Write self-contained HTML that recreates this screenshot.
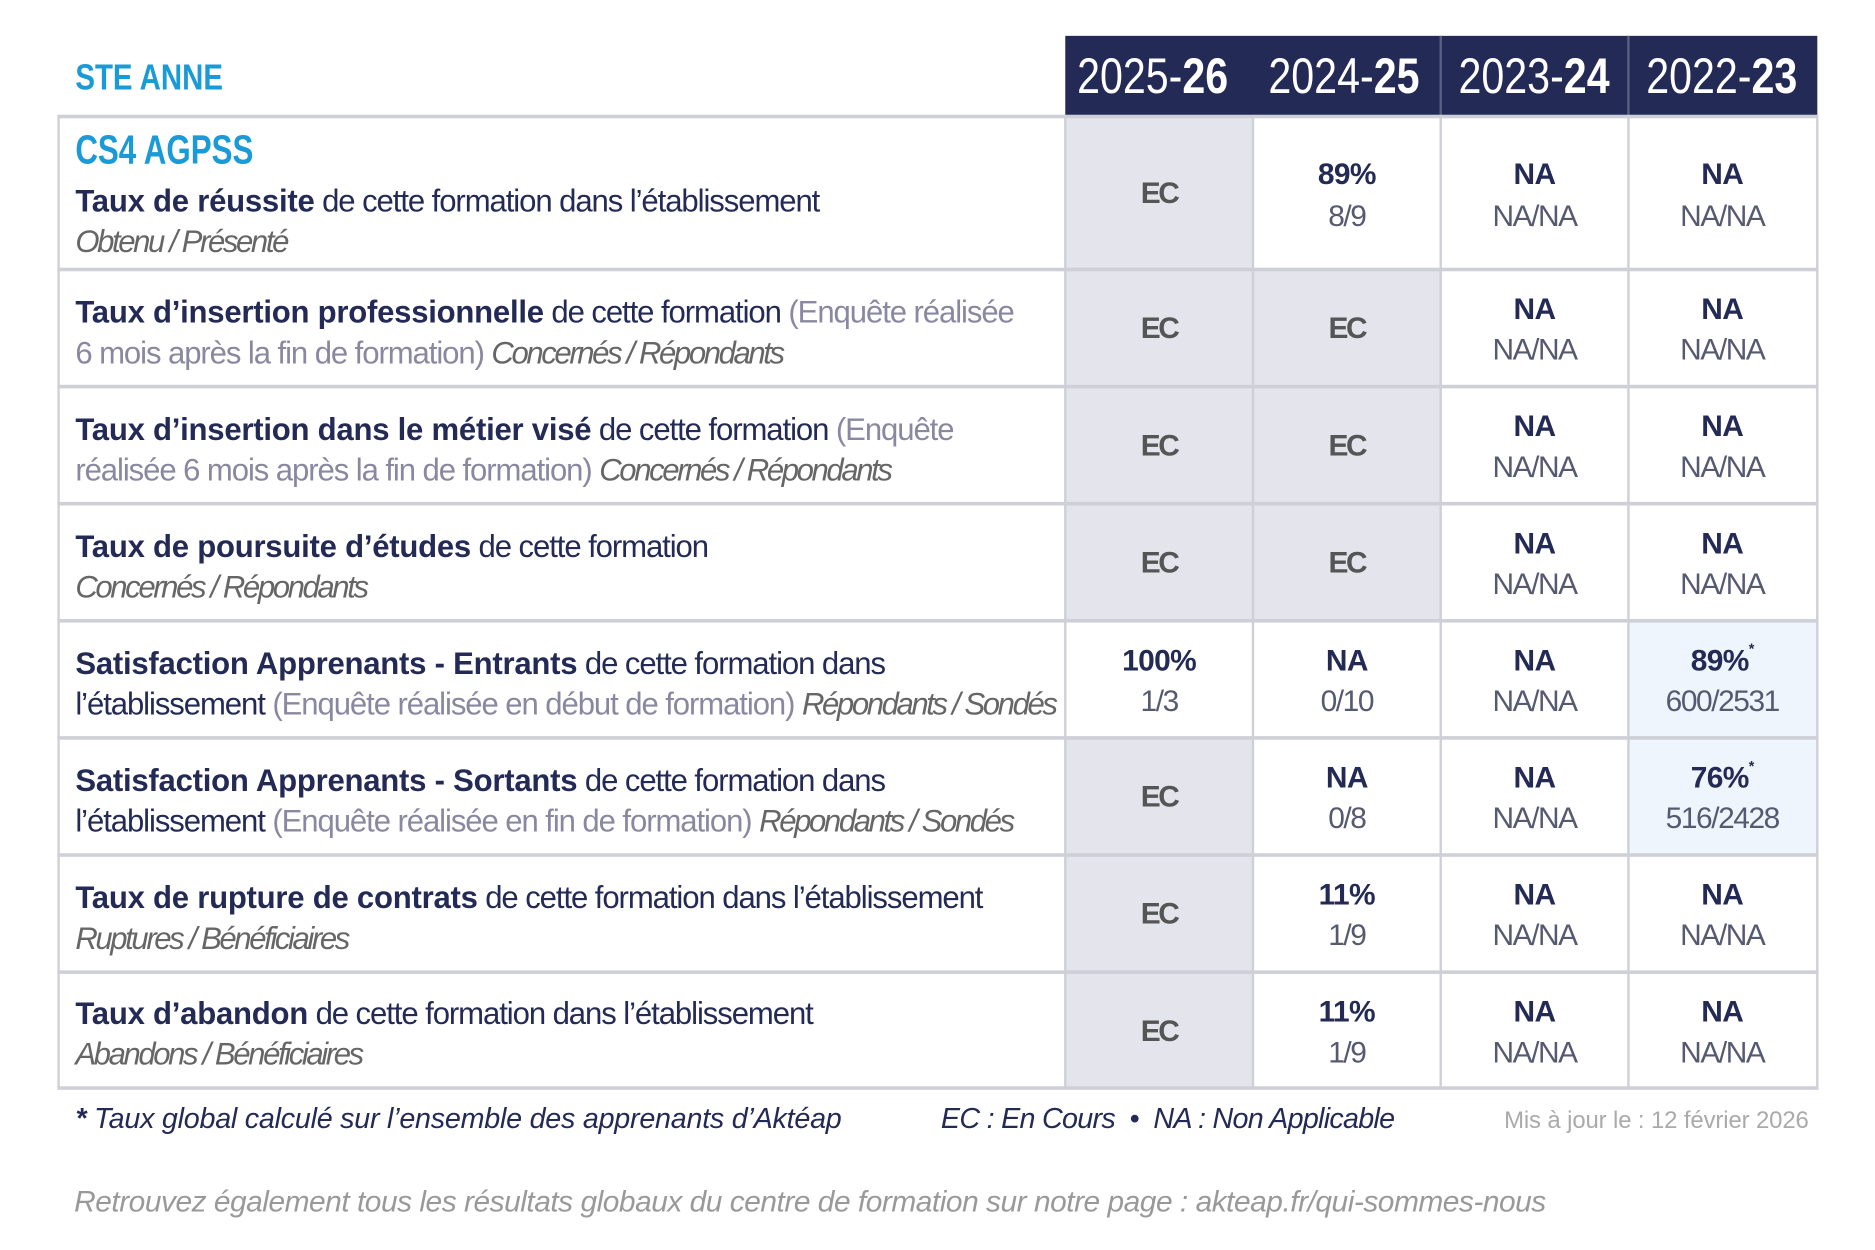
<!DOCTYPE html>
<html><head><meta charset="utf-8">
<style>
html,body{margin:0;padding:0;background:#fff;}
body{width:1875px;height:1250px;overflow:hidden;position:relative;font-family:"Liberation Sans",sans-serif;}
#s{position:absolute;left:0;top:0;width:1570px;height:1046px;transform-origin:0 0;transform:scale(1.1956,1.195);}
.a{position:absolute;white-space:nowrap;line-height:1;}
.r{position:absolute;}
.ln{font-size:26px;color:#232a55;letter-spacing:-0.9px;}
.ln b{letter-spacing:-0.2px;}
.g{color:#8a88a0;}
.i{font-style:italic;color:#666;letter-spacing:-2px;}
.v{font-size:25px;width:157px;text-align:center;}
.v1{font-weight:bold;color:#232a55;letter-spacing:-0.5px;}
.v2{color:#555a70;letter-spacing:-1.2px;}
.ec{font-weight:bold;color:#555;letter-spacing:-2px;}
.yr{font-size:42px;color:#fff;width:157px;text-align:center;}
.yr span{display:inline-block;transform:scaleX(0.82);}
.yr b{font-weight:bold;}
.yr i{font-style:normal;font-weight:normal;}
sup{font-size:12px;vertical-align:top;position:relative;top:-4px;}
</style></head><body>
<div id="s">
<div class="r" style="left:891px;top:30px;width:629px;height:68px;background:#232a55;"></div>
<div class="r" style="left:1204px;top:30px;width:2px;height:68px;background:#5a6080;"></div>
<div class="r" style="left:1361px;top:30px;width:2px;height:68px;background:#5a6080;"></div>
<div class="a yr" style="left:886px;top:43px;"><span><i>2025-</i><b>26</b></span></div>
<div class="a yr" style="left:1046px;top:43px;"><span><i>2024-</i><b>25</b></span></div>
<div class="a yr" style="left:1205px;top:43px;"><span><i>2023-</i><b>24</b></span></div>
<div class="a yr" style="left:1362px;top:43px;"><span><i>2022-</i><b>23</b></span></div>
<div class="a" style="left:63px;top:51px;font-size:30px;font-weight:bold;color:#1a9ad6;"><span style="display:inline-block;transform:scaleX(0.82);transform-origin:0 0;">STE ANNE</span></div>

<div class="r" style="left:891px;top:97px;width:157px;height:422px;background:#e4e4ec;"></div>
<div class="r" style="left:891px;top:617px;width:157px;height:294px;background:#e4e4ec;"></div>
<div class="r" style="left:1048px;top:225px;width:157px;height:294px;background:#e4e4ec;"></div>
<div class="r" style="left:1362px;top:519px;width:158px;height:196px;background:#eef5fc;"></div>

<div class="r" style="left:48px;top:96px;width:1473px;height:3px;background:#cfcfd8;"></div>
<div class="r" style="left:48px;top:224px;width:1473px;height:3px;background:#cfcfd8;"></div>
<div class="r" style="left:48px;top:322px;width:1473px;height:3px;background:#cfcfd8;"></div>
<div class="r" style="left:48px;top:420px;width:1473px;height:3px;background:#cfcfd8;"></div>
<div class="r" style="left:48px;top:518px;width:1473px;height:3px;background:#cfcfd8;"></div>
<div class="r" style="left:48px;top:616px;width:1473px;height:3px;background:#cfcfd8;"></div>
<div class="r" style="left:48px;top:714px;width:1473px;height:3px;background:#cfcfd8;"></div>
<div class="r" style="left:48px;top:812px;width:1473px;height:3px;background:#cfcfd8;"></div>
<div class="r" style="left:48px;top:909px;width:1473px;height:3px;background:#cfcfd8;"></div>
<div class="r" style="left:48px;top:97px;width:2px;height:814px;background:#cfcfd8;"></div>
<div class="r" style="left:890px;top:97px;width:2px;height:814px;background:#cfcfd8;"></div>
<div class="r" style="left:1047px;top:97px;width:2px;height:814px;background:#cfcfd8;"></div>
<div class="r" style="left:1204px;top:97px;width:2px;height:814px;background:#cfcfd8;"></div>
<div class="r" style="left:1361px;top:97px;width:2px;height:814px;background:#cfcfd8;"></div>
<div class="r" style="left:1519px;top:97px;width:2px;height:814px;background:#cfcfd8;"></div>

<div class="a" style="left:63px;top:109px;font-size:34px;font-weight:bold;color:#1a9ad6;"><span style="display:inline-block;transform:scaleX(0.77);transform-origin:0 0;">CS4 AGPSS</span></div>
<div class="a ln" style="left:63px;top:155px;"><b>Taux de réussite</b> de cette formation dans l’établissement</div>
<div class="a ln i" style="left:63px;top:189px;">Obtenu / Présenté</div>
<div class="a v ec" style="left:891px;top:150px;">EC</div>
<div class="a v v1" style="left:1048px;top:134px;">89%</div><div class="a v v2" style="left:1048px;top:169px;">8/9</div>
<div class="a v v1" style="left:1205px;top:134px;">NA</div><div class="a v v2" style="left:1205px;top:169px;">NA/NA</div>
<div class="a v v1" style="left:1362px;top:134px;">NA</div><div class="a v v2" style="left:1362px;top:169px;">NA/NA</div>

<div class="a ln" style="left:63px;top:248px;"><b>Taux d’insertion professionnelle</b> de cette formation <span class="g">(Enquête réalisée</span></div>
<div class="a ln" style="left:63px;top:282px;"><span class="g">6 mois après la fin de formation)</span> <span class="i">Concernés / Répondants</span></div>
<div class="a v ec" style="left:891px;top:263px;">EC</div>
<div class="a v ec" style="left:1048px;top:263px;">EC</div>
<div class="a v v1" style="left:1205px;top:247px;">NA</div><div class="a v v2" style="left:1205px;top:281px;">NA/NA</div>
<div class="a v v1" style="left:1362px;top:247px;">NA</div><div class="a v v2" style="left:1362px;top:281px;">NA/NA</div>

<div class="a ln" style="left:63px;top:346px;"><b>Taux d’insertion dans le métier visé</b> de cette formation <span class="g">(Enquête</span></div>
<div class="a ln" style="left:63px;top:380px;"><span class="g">réalisée 6 mois après la fin de formation)</span> <span class="i">Concernés / Répondants</span></div>
<div class="a v ec" style="left:891px;top:361px;">EC</div>
<div class="a v ec" style="left:1048px;top:361px;">EC</div>
<div class="a v v1" style="left:1205px;top:345px;">NA</div><div class="a v v2" style="left:1205px;top:379px;">NA/NA</div>
<div class="a v v1" style="left:1362px;top:345px;">NA</div><div class="a v v2" style="left:1362px;top:379px;">NA/NA</div>

<div class="a ln" style="left:63px;top:444px;"><b>Taux de poursuite d’études</b> de cette formation</div>
<div class="a ln i" style="left:63px;top:478px;">Concernés / Répondants</div>
<div class="a v ec" style="left:891px;top:459px;">EC</div>
<div class="a v ec" style="left:1048px;top:459px;">EC</div>
<div class="a v v1" style="left:1205px;top:443px;">NA</div><div class="a v v2" style="left:1205px;top:477px;">NA/NA</div>
<div class="a v v1" style="left:1362px;top:443px;">NA</div><div class="a v v2" style="left:1362px;top:477px;">NA/NA</div>

<div class="a ln" style="left:63px;top:542px;"><b>Satisfaction Apprenants - Entrants</b> de cette formation dans</div>
<div class="a ln" style="left:63px;top:576px;">l’établissement <span class="g">(Enquête réalisée en début de formation)</span> <span class="i">Répondants / Sondés</span></div>
<div class="a v v1" style="left:891px;top:541px;">100%</div><div class="a v v2" style="left:891px;top:575px;">1/3</div>
<div class="a v v1" style="left:1048px;top:541px;">NA</div><div class="a v v2" style="left:1048px;top:575px;">0/10</div>
<div class="a v v1" style="left:1205px;top:541px;">NA</div><div class="a v v2" style="left:1205px;top:575px;">NA/NA</div>
<div class="a v v1" style="left:1362px;top:541px;">89%<sup>*</sup></div><div class="a v v2" style="left:1362px;top:575px;">600/2531</div>

<div class="a ln" style="left:63px;top:640px;"><b>Satisfaction Apprenants - Sortants</b> de cette formation dans</div>
<div class="a ln" style="left:63px;top:674px;">l’établissement <span class="g">(Enquête réalisée en fin de formation)</span> <span class="i">Répondants / Sondés</span></div>
<div class="a v ec" style="left:891px;top:655px;">EC</div>
<div class="a v v1" style="left:1048px;top:639px;">NA</div><div class="a v v2" style="left:1048px;top:673px;">0/8</div>
<div class="a v v1" style="left:1205px;top:639px;">NA</div><div class="a v v2" style="left:1205px;top:673px;">NA/NA</div>
<div class="a v v1" style="left:1362px;top:639px;">76%<sup>*</sup></div><div class="a v v2" style="left:1362px;top:673px;">516/2428</div>

<div class="a ln" style="left:63px;top:738px;"><b>Taux de rupture de contrats</b> de cette formation dans l’établissement</div>
<div class="a ln i" style="left:63px;top:772px;">Ruptures / Bénéficiaires</div>
<div class="a v ec" style="left:891px;top:753px;">EC</div>
<div class="a v v1" style="left:1048px;top:737px;">11%</div><div class="a v v2" style="left:1048px;top:771px;">1/9</div>
<div class="a v v1" style="left:1205px;top:737px;">NA</div><div class="a v v2" style="left:1205px;top:771px;">NA/NA</div>
<div class="a v v1" style="left:1362px;top:737px;">NA</div><div class="a v v2" style="left:1362px;top:771px;">NA/NA</div>

<div class="a ln" style="left:63px;top:835px;"><b>Taux d’abandon</b> de cette formation dans l’établissement</div>
<div class="a ln i" style="left:63px;top:869px;">Abandons / Bénéficiaires</div>
<div class="a v ec" style="left:891px;top:851px;">EC</div>
<div class="a v v1" style="left:1048px;top:835px;">11%</div><div class="a v v2" style="left:1048px;top:869px;">1/9</div>
<div class="a v v1" style="left:1205px;top:835px;">NA</div><div class="a v v2" style="left:1205px;top:869px;">NA/NA</div>
<div class="a v v1" style="left:1362px;top:835px;">NA</div><div class="a v v2" style="left:1362px;top:869px;">NA/NA</div>

<div class="a" style="left:63px;top:925px;font-size:24px;font-style:italic;color:#232a55;letter-spacing:-0.2px;"><b>*</b> Taux global calculé sur l’ensemble des apprenants d’Aktéap</div>
<div class="a" style="left:787px;top:925px;font-size:24px;font-style:italic;color:#232a55;letter-spacing:-0.6px;">EC : En Cours &nbsp;•&nbsp; NA : Non Applicable</div>
<div class="a" style="left:1258px;top:928px;font-size:20px;color:#aaa;letter-spacing:-0.1px;">Mis à jour le : 12 février 2026</div>
<div class="a" style="left:62px;top:994px;font-size:25px;font-style:italic;color:#999;letter-spacing:-0.4px;">Retrouvez également tous les résultats globaux du centre de formation sur notre page : akteap.fr/qui-sommes-nous</div>
</div>
</body></html>
